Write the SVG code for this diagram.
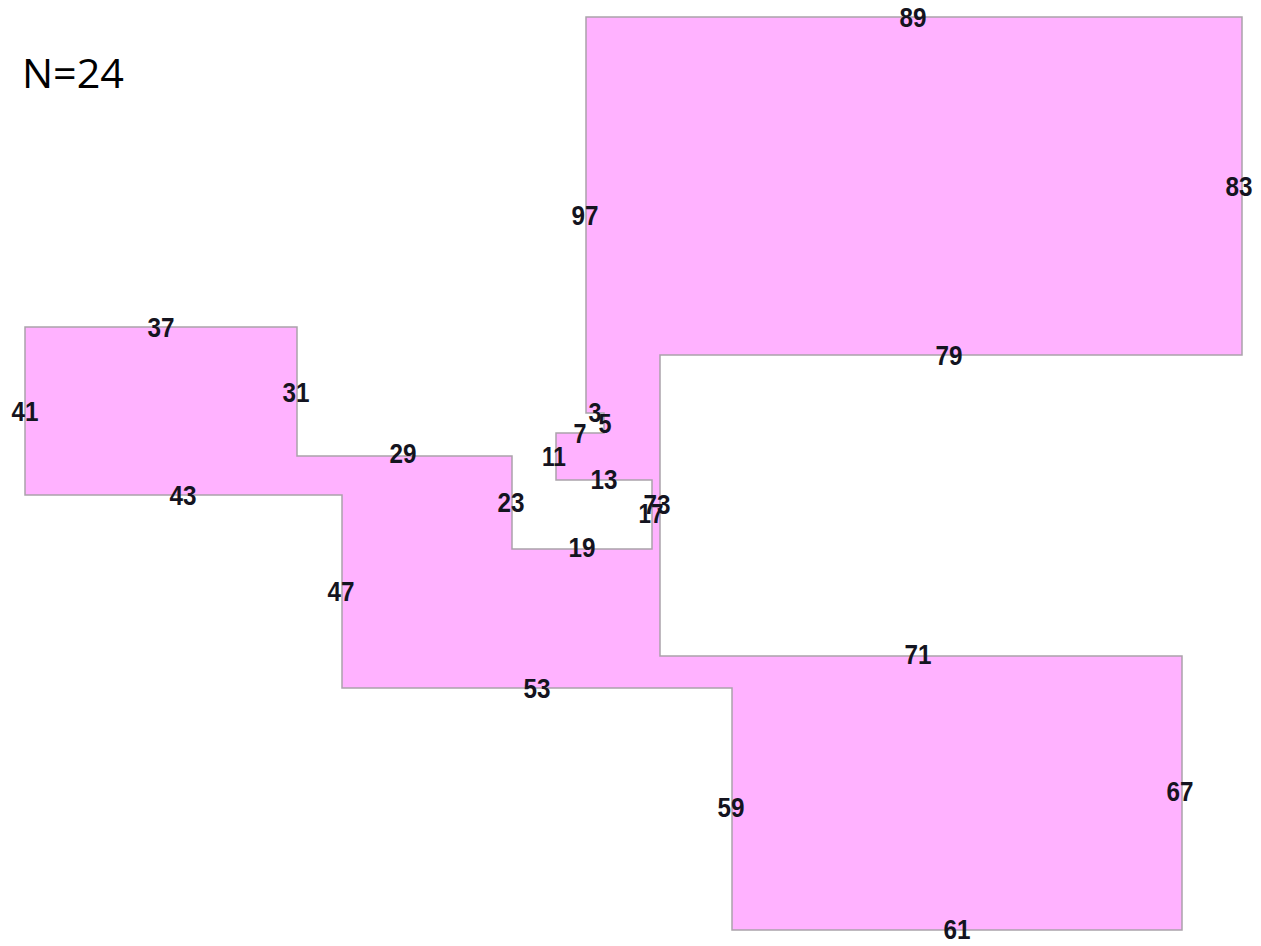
<svg xmlns="http://www.w3.org/2000/svg" width="1261" height="946" viewBox="0 0 1261 946">
<style>
.poly{fill:#ffb2ff;stroke:#aaa2aa;stroke-width:1.5;stroke-linejoin:miter}
.lb{font-family:"Liberation Sans",Arial,sans-serif;font-size:27px;font-weight:bold;fill:#141420;text-anchor:middle}
.title{font-family:"Open Sans","Liberation Sans",sans-serif;font-size:40px;fill:#000}
</style>
<rect width="1261" height="946" fill="#fff"/>
<text class="title" x="22" y="88" textLength="102" lengthAdjust="spacingAndGlyphs">N=24</text>
<g id="polygon">
<polygon class="poly" points="586,17 1242,17 1242,355 660,355 660,656 1182,656 1182,930 732,930 732,688 342,688 342,495 25,495 25,327 297,327 297,456 512,456 512,549 652,549 652,480 556,480 556,433 604,433 604,413 586,413"/>
</g>
<g id="labels">
<text class="lb" x="913" y="27" textLength="27" lengthAdjust="spacingAndGlyphs">89</text>
<text class="lb" x="1239" y="196" textLength="27" lengthAdjust="spacingAndGlyphs">83</text>
<text class="lb" x="585" y="225" textLength="27" lengthAdjust="spacingAndGlyphs">97</text>
<text class="lb" x="949" y="365" textLength="27" lengthAdjust="spacingAndGlyphs">79</text>
<text class="lb" x="161" y="337" textLength="27" lengthAdjust="spacingAndGlyphs">37</text>
<text class="lb" x="296" y="402" textLength="27" lengthAdjust="spacingAndGlyphs">31</text>
<text class="lb" x="25" y="421" textLength="27" lengthAdjust="spacingAndGlyphs">41</text>
<text class="lb" x="403" y="463" textLength="27" lengthAdjust="spacingAndGlyphs">29</text>
<text class="lb" x="183" y="505" textLength="27" lengthAdjust="spacingAndGlyphs">43</text>
<text class="lb" x="511" y="512" textLength="27" lengthAdjust="spacingAndGlyphs">23</text>
<text class="lb" x="582" y="557" textLength="27" lengthAdjust="spacingAndGlyphs">19</text>
<text class="lb" x="341" y="601" textLength="27" lengthAdjust="spacingAndGlyphs">47</text>
<text class="lb" x="537" y="698" textLength="27" lengthAdjust="spacingAndGlyphs">53</text>
<text class="lb" x="731" y="817" textLength="27" lengthAdjust="spacingAndGlyphs">59</text>
<text class="lb" x="918" y="664" textLength="27" lengthAdjust="spacingAndGlyphs">71</text>
<text class="lb" x="1180" y="801" textLength="27" lengthAdjust="spacingAndGlyphs">67</text>
<text class="lb" x="957" y="939" textLength="27" lengthAdjust="spacingAndGlyphs">61</text>
<text class="lb" x="595" y="422" textLength="13" lengthAdjust="spacingAndGlyphs">3</text>
<text class="lb" x="605" y="433" textLength="13" lengthAdjust="spacingAndGlyphs">5</text>
<text class="lb" x="580" y="443" textLength="13" lengthAdjust="spacingAndGlyphs">7</text>
<text class="lb" x="554" y="466" textLength="24" lengthAdjust="spacingAndGlyphs">11</text>
<text class="lb" x="604" y="489" textLength="27" lengthAdjust="spacingAndGlyphs">13</text>
<text class="lb" x="657" y="514" textLength="27" lengthAdjust="spacingAndGlyphs">73</text>
<text class="lb" x="651" y="523" textLength="25" lengthAdjust="spacingAndGlyphs">17</text>
</g>
</svg>
